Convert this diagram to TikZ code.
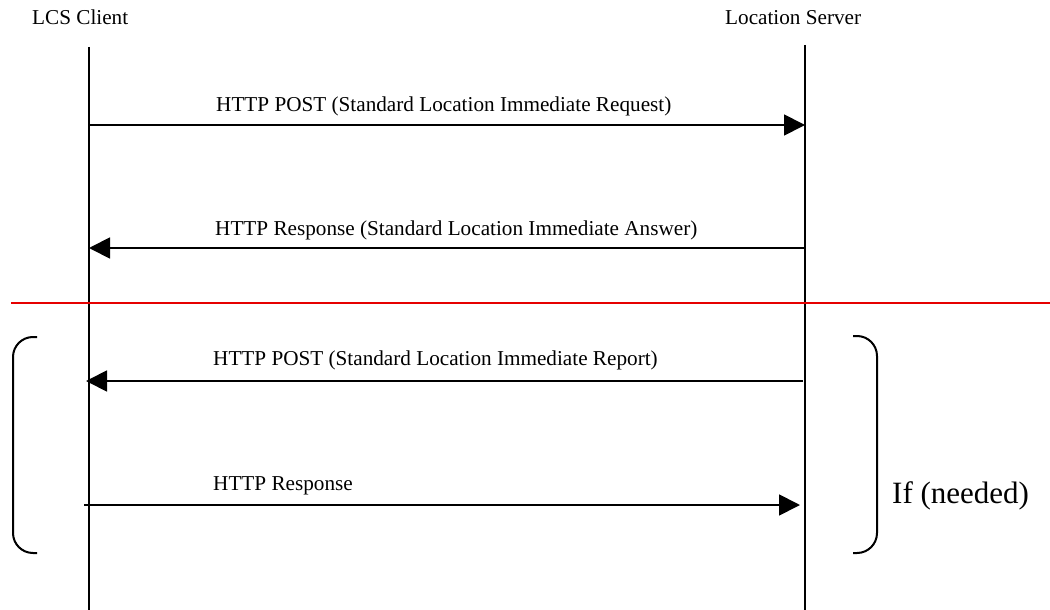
\documentclass[tikz,border=0pt]{standalone}
\usepackage{fontspec}
\setmainfont{Liberation Serif}
\usetikzlibrary{arrows.meta}
\begin{document}
\begin{tikzpicture}[x=1pt,y=-1pt,
  lifeline/.style={line width=2pt},
  msg/.style={line width=1.8pt,-{Triangle[length=21pt,width=21pt]}},
  lbl/.style={anchor=base west,inner sep=0pt,font=\fontsize{21.2}{25}\selectfont},
  title/.style={anchor=base west,inner sep=0pt,font=\fontsize{21.2}{25}\selectfont},
  brk/.style={line width=2pt,rounded corners=20pt},
  sep/.style={line width=1.8pt,draw={rgb,255:red,230;green,0;blue,0}}]
\useasboundingbox (0,0) rectangle (1050,610);
% titles
\node[title] (client) at (32,25) {LCS Client};
\node[title] (server) at (725,25) {Location Server};
% lifelines
\coordinate (ct) at (89,47);
\coordinate (cb) at (89,610);
\coordinate (st) at (805,45);
\coordinate (sb) at (805,610);
\draw[lifeline] (ct) -- (cb);
\draw[lifeline] (st) -- (sb);
% messages
\coordinate (m1a) at (89,125);  \coordinate (m1b) at (805,125);
\coordinate (m2a) at (805,248); \coordinate (m2b) at (89,248);
\coordinate (m3a) at (803,381); \coordinate (m3b) at (86,381);
\coordinate (m4a) at (84,505);  \coordinate (m4b) at (800,505);
\draw[msg] (m1a) -- (m1b);
\draw[msg] (m2a) -- (m2b);
\draw[msg] (m3a) -- (m3b);
\draw[msg] (m4a) -- (m4b);
\node[lbl] (l1) at (216,111) {HTTP POST (Standard Location Immediate Request)};
\node[lbl] (l2) at (215,235) {HTTP Response (Standard Location Immediate Answer)};
\node[lbl] (l3) at (213,365) {HTTP POST (Standard Location Immediate Report)};
\node[lbl] (l4) at (213,490) {HTTP Response};
% separator
\coordinate (sepa) at (11,303);
\coordinate (sepb) at (1050,303);
\draw[sep] (sepa) -- (sepb);
% brackets
\draw[brk] (37,337) -- (13,337) -- (13,553) -- (37,553);
\draw[brk] (853,336) -- (877,336) -- (877,553) -- (853,553);
\node[anchor=base west,inner sep=0pt,font=\fontsize{31}{37}\selectfont] (cond) at (892,503) {If (needed)};
\end{tikzpicture}
\end{document}
